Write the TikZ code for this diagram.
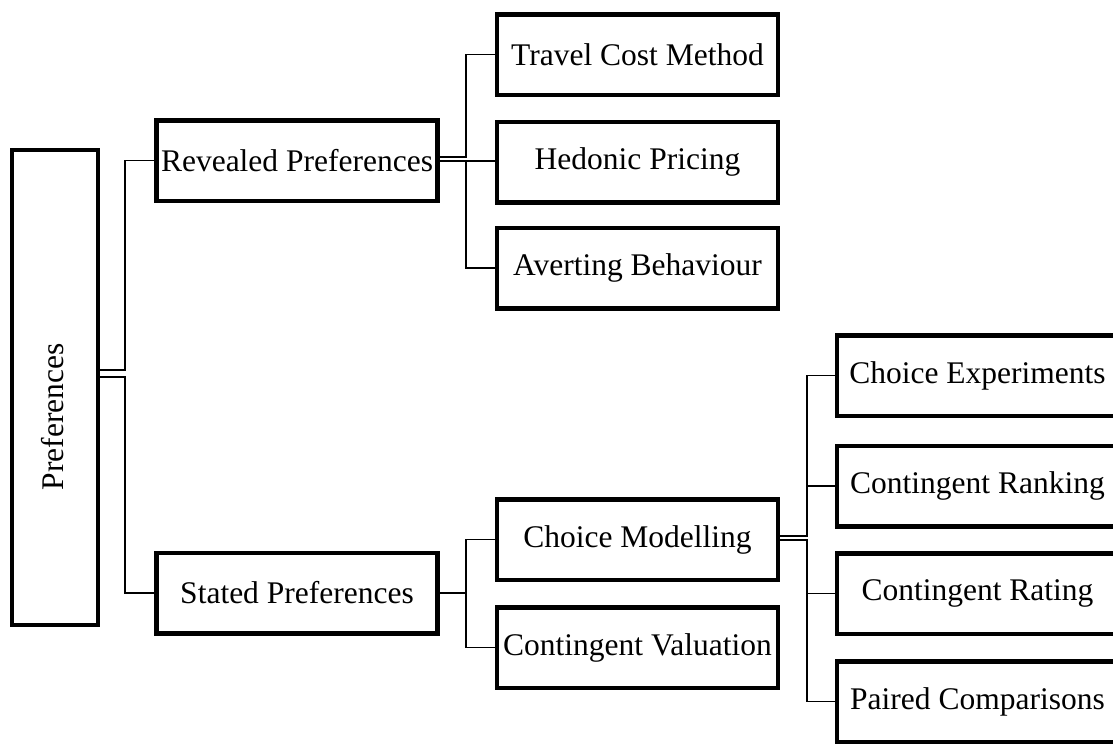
\documentclass[tikz,border=0pt]{standalone}
\usepackage{fontspec}
\setmainfont{Liberation Serif}
\usepackage{graphicx}
\begin{document}
\begin{tikzpicture}[x=1pt,y=-1pt,
  box/.style={draw, line width=4.5pt, minimum width=281pt, minimum height=80.5pt, inner sep=0pt, font=\fontsize{31.5}{37}\selectfont},
  link/.style={line width=1.4pt}]
\clip (0,0) rectangle (1113,745);
\fill[white] (0,0) rectangle (1113,745);
% boxes
\node[box, minimum width=86pt, minimum height=475pt] (pref) at (55,387.5) {};
\node[font=\fontsize{31.5}{37}\selectfont, inner sep=0pt] (preflabel) at (53,417) {\rotatebox{90}{Preferences}};
\node[box] (rev) at (297,160.5) {Revealed Preferences};
\node[box] (stated) at (297,593) {Stated Preferences};
\node[box] (travel) at (637.5,54.5) {Travel Cost Method};
\node[box] (hedonic) at (637.5,162) {Hedonic Pricing};
\node[box] (avert) at (637.5,268) {Averting Behaviour};
\node[box] (cm) at (637.5,539.5) {Choice Modelling};
\node[box] (cv) at (637.5,647.5) {Contingent Valuation};
\node[box] (ce) at (977.5,375.5) {Choice Experiments};
\node[box] (cr) at (977.5,486) {Contingent Ranking};
\node[box] (crate) at (977.5,593.5) {Contingent Rating};
\node[box] (pc) at (977.5,701.5) {Paired Comparisons};
% junctions
\coordinate (j1) at (125,370);
\coordinate (j2) at (125,377);
\coordinate (j3) at (466,157);
\coordinate (j4) at (466,161);
\coordinate (j5) at (466,593);
\coordinate (j6) at (807,536);
\coordinate (j7) at (807,540);
% connectors
\draw[link] (pref.east |- j1) -- (j1) |- (rev.west);
\draw[link] (pref.east |- j2) -- (j2) |- (stated.west);
\draw[link] (rev.east |- j3) -- (j3) |- (travel.west);
\draw[link] (rev.east |- j4) -- (j4) -- (hedonic.west |- j4);
\draw[link] (j4) |- (avert.west);
\draw[link, line width=2.8pt] (stated.east) -- (j5);
\draw[link] (j5) |- (cm.west);
\draw[link] (j5) |- (cv.west);
\draw[link] (cm.east |- j6) -- (j6) |- (ce.west);
\draw[link] (j6) |- (cr.west);
\draw[link] (cm.east |- j7) -- (j7) |- (crate.west);
\draw[link] (j7) |- (pc.west);
\end{tikzpicture}
\end{document}
